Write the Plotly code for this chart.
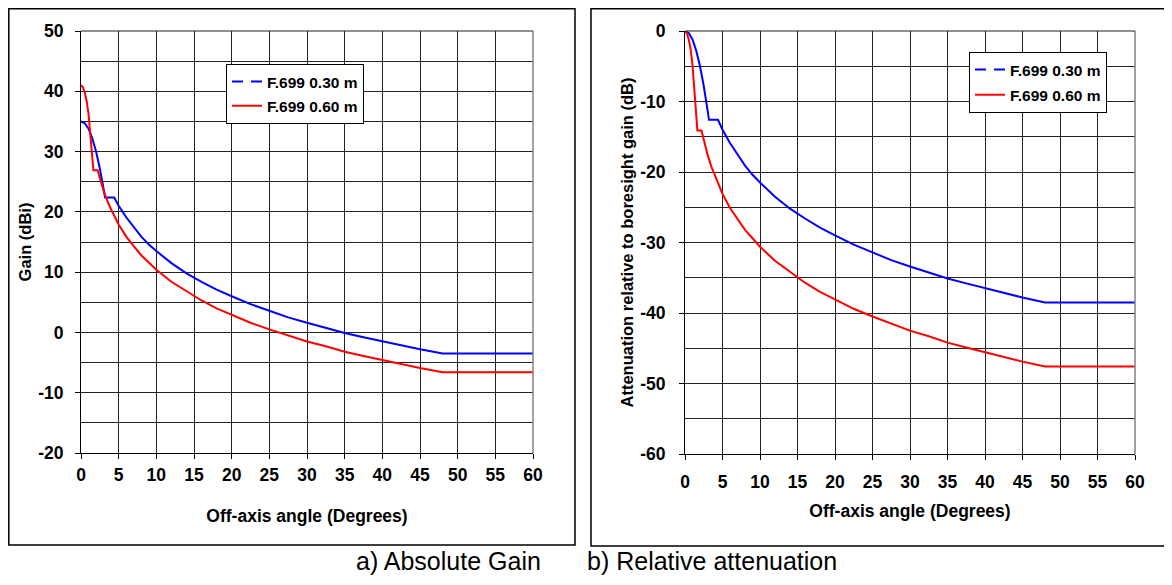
import plotly.graph_objects as go

# ---- data ----
angle_030 = [0, 0.5, 1.0, 1.5, 2.0, 2.5, 3.0, 3.2, 4.4, 5, 6, 7, 8, 9, 10, 12, 14, 16, 18, 20,
             22.5, 25, 27.5, 30, 32.5, 35, 37.5, 40, 42.5, 45, 48, 50, 55, 60]
gain_030 = [35.0, 34.7, 33.8, 32.2, 30.0, 27.2, 23.8, 22.4, 22.4, 21.0, 19.1, 17.4, 15.9, 14.6,
            13.5, 11.5, 9.8, 8.4, 7.1, 6.0, 4.7, 3.6, 2.5, 1.6, 0.7, -0.1, -0.8, -1.5, -2.2,
            -2.8, -3.5, -3.5, -3.5, -3.5]

angle_060 = [0, 0.25, 0.5, 0.75, 1.0, 1.25, 1.5, 1.65, 2.2, 2.5, 3, 3.5, 4, 5, 6, 7, 8, 9, 10,
             12, 14, 16, 18, 20, 22.5, 25, 27.5, 30, 32.5, 35, 37.5, 40, 42.5, 45, 48, 50, 55, 60]
gain_060 = [41.0, 40.7, 39.8, 38.4, 36.2, 33.0, 29.4, 26.9, 26.9, 25.5, 23.5, 21.8, 20.4, 17.9,
            15.9, 14.3, 12.8, 11.6, 10.4, 8.4, 6.8, 5.3, 4.0, 2.9, 1.6, 0.5, -0.5, -1.5, -2.3,
            -3.2, -3.9, -4.6, -5.3, -5.9, -6.6, -6.6, -6.6, -6.6]

# relative attenuation = gain minus boresight gain
atten_030 = [g - gain_030[0] for g in gain_030]
atten_060 = [g - gain_060[0] for g in gain_060]

x_ticks = [0, 5, 10, 15, 20, 25, 30, 35, 40, 45, 50, 55, 60]
gain_ticks = [-20, -10, 0, 10, 20, 30, 40, 50]
atten_ticks = [-60, -50, -40, -30, -20, -10, 0]

names = ["F.699 0.30 m", "F.699 0.60 m"]
caption_a = "a) Absolute Gain"
caption_b = "b) Relative attenuation"

# page has an 8 px body margin: figure is 16 px smaller than the window
W, H = 1156, 569
OFF = 8


def px(x):
    return (x - OFF) / W


def py(y):
    return 1 - (y - OFF) / H


BLUE, RED = "#0000FF", "#FF0000"

fig = go.Figure()


def add_panel(xa, ya, leg, y030, y060):
    fig.add_trace(go.Scatter(x=angle_030, y=y030, mode="lines", xaxis=xa, yaxis=ya,
                             line=dict(color=BLUE, width=2), showlegend=False))
    fig.add_trace(go.Scatter(x=angle_060, y=y060, mode="lines", xaxis=xa, yaxis=ya,
                             line=dict(color=RED, width=2), showlegend=False))
    fig.add_trace(go.Scatter(x=[None], y=[None], mode="lines", xaxis=xa, yaxis=ya,
                             name=names[0], legend=leg, legendgroup=leg + "a",
                             line=dict(color=BLUE, width=2, dash="11px,8px")))
    fig.add_trace(go.Scatter(x=[None], y=[None], mode="lines", xaxis=xa, yaxis=ya,
                             name=names[1], legend=leg, legendgroup=leg + "b",
                             line=dict(color=RED, width=2)))


add_panel("x", "y", "legend", gain_030, gain_060)
add_panel("x2", "y2", "legend2", atten_030, atten_060)

FONT = "Liberation Sans, Arial, sans-serif"
tickfont = dict(family=FONT, size=17.5, color="black", weight="bold")
xtitlefont = dict(family=FONT, size=17.5, color="black", weight="bold")
ytitlefont = dict(family=FONT, size=16.5, color="black", weight="bold")
GRID = "#222222"


def xaxis(domain, anchor, standoff, tstand):
    return dict(domain=domain, anchor=anchor, range=[0, 60], automargin=False,
                tickvals=x_ticks, ticktext=[str(v) for v in x_ticks],
                showgrid=True, gridcolor=GRID, gridwidth=1,
                showline=True, linecolor="black", linewidth=1, mirror=False,
                ticks="outside", ticklen=5, tickcolor="black", tickfont=tickfont,
                ticklabelstandoff=standoff,
                title=dict(text="Off-axis angle (Degrees)", font=xtitlefont, standoff=tstand),
                zeroline=False, fixedrange=True)


def yaxis(domain, anchor, rng, ticks, title, standoff, tstand):
    return dict(domain=domain, anchor=anchor, range=rng, automargin=False,
                tickvals=ticks, ticktext=[str(v) for v in ticks],
                showgrid=True, gridcolor=GRID, gridwidth=1,
                minor=dict(dtick=5, tick0=0, showgrid=True, gridcolor=GRID, gridwidth=1),
                showline=True, linecolor="black", linewidth=1, mirror=False,
                ticks="outside", ticklen=5, tickcolor="black", tickfont=tickfont,
                ticklabelstandoff=standoff,
                title=dict(text=title, font=ytitlefont, standoff=tstand),
                zeroline=False, fixedrange=True)


legfont = dict(family=FONT, size=15.5, color="black", weight="bold")
fig.update_layout(
    width=W, height=H, margin=dict(l=0, r=0, t=0, b=0, autoexpand=False),
    paper_bgcolor="white", plot_bgcolor="white",
    xaxis=xaxis([px(81), px(533)], "y", 1, 25),
    yaxis=yaxis([py(453), py(31)], "x", [-20, 50], gain_ticks, "Gain (dBi)", 8, 2),
    xaxis2=xaxis([px(685), px(1135)], "y2", 7, 13),
    yaxis2=yaxis([py(454), py(31)], "x2", [-60, 0], atten_ticks,
                 "Attenuation relative to boresight gain (dB)", 10, 2),
    legend=dict(x=px(226), y=py(64), xanchor="left", yanchor="top",
                bgcolor="white", bordercolor="black", borderwidth=1,
                font=legfont, tracegroupgap=1, itemwidth=30),
    legend2=dict(x=px(969), y=py(52), xanchor="left", yanchor="top",
                 bgcolor="white", bordercolor="black", borderwidth=1,
                 font=legfont, tracegroupgap=2, itemwidth=30),
    showlegend=True,
)

# outer frames of the two panels (top/left kept inside the drawable area)
fig.add_shape(type="rect", xref="paper", yref="paper", x0=0.8 / W, x1=px(575),
              y0=py(545), y1=1 - 0.8 / H, line=dict(color="black", width=1.5), layer="below")
fig.add_shape(type="rect", xref="paper", yref="paper", x0=px(591), x1=px(1200),
              y0=py(546), y1=1 - 0.8 / H, line=dict(color="black", width=1.5), layer="below")
# plot-area borders: grey right edge, dark top edge
for xr, yr in (("x domain", "y domain"), ("x2 domain", "y2 domain")):
    fig.add_shape(type="line", xref=xr, yref=yr, x0=1, x1=1, y0=0, y1=1,
                  line=dict(color="#808080", width=1.5))
    fig.add_shape(type="line", xref=xr, yref=yr, x0=0, x1=1, y0=1, y1=1,
                  line=dict(color="#202020", width=1))

capfont = dict(family=FONT, size=25, color="black")
fig.add_annotation(text=caption_a, xref="paper", yref="paper", x=px(543), y=0,
                   xanchor="right", yanchor="bottom", showarrow=False, font=capfont)
fig.add_annotation(text=caption_b, xref="paper", yref="paper", x=px(585), y=0,
                   xanchor="left", yanchor="bottom", showarrow=False, font=capfont)

fig.write_html("out.html")
